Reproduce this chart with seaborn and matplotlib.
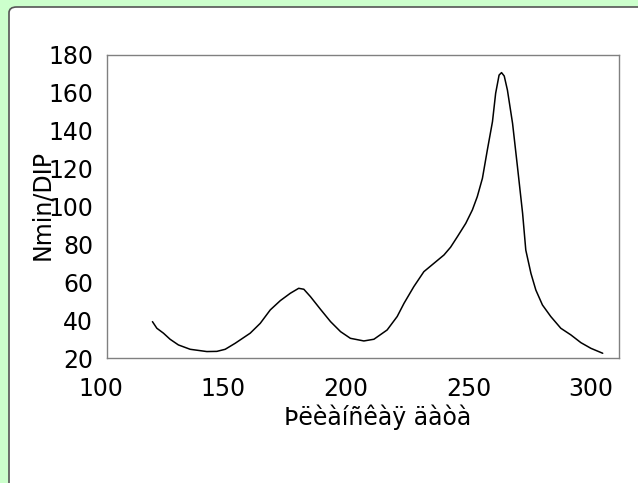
import matplotlib
matplotlib.use("Agg")
import matplotlib.pyplot as plt
from matplotlib.patches import FancyBboxPatch
import matplotlib.transforms as mtransforms
import seaborn as sns
import pandas as pd

# Data
day = [121.0, 122.8, 125.5, 128.2, 131.6, 136.4, 143.2, 147.3, 150.7, 154.8,
       160.9, 165.0, 169.1, 173.2, 177.3, 180.7, 182.8, 185.5, 189.6, 193.7,
       197.8, 201.8, 207.3, 211.4, 216.8, 220.9, 223.7, 227.7, 231.8, 235.9,
       240.0, 242.7, 245.5, 248.9, 251.6, 253.6, 255.7, 257.7, 259.8, 261.1,
       262.5, 263.5, 264.6, 265.9, 268.0, 270.0, 272.1, 273.4, 275.5, 277.5,
       280.2, 283.6, 287.7, 291.8, 295.9, 300.0, 304.8]
value = [39.2, 35.7, 33.1, 29.9, 26.9, 24.6, 23.4, 23.5, 24.6, 27.8,
         33.1, 38.3, 45.4, 50.3, 54.2, 56.8, 56.3, 52.4, 45.7, 39.2,
         33.9, 30.4, 29.0, 29.9, 34.8, 41.9, 48.9, 57.7, 65.6, 70.0,
         74.4, 78.5, 84.1, 91.1, 98.2, 105.2, 114.9, 129.8, 144.8, 159.8,
         169.4, 170.7, 168.9, 161.5, 143.9, 121.0, 96.4, 77.0, 64.7, 55.9,
         48.0, 41.9, 35.7, 32.2, 28.1, 25.1, 22.5]
xticks = [100, 150, 200, 250, 300]
yticks = [20, 40, 60, 80, 100, 120, 140, 160, 180]
xlabel = "Þëèàíñêàÿ äàòà"
ylabel = "Nmin/DIP"

df = pd.DataFrame({"day": day, "value": value})

sns.set_theme(style="white")
plt.rcParams["font.family"] = ["DejaVu Sans"]

W, H = 638, 483
fig = plt.figure(figsize=(W / 100, H / 100), dpi=100)
fig.patch.set_facecolor("#ccffcc")

# White rounded panel
panel = FancyBboxPatch((9 / W, (H - 600) / H), 700 / W, (600 - 7) / H,
                       boxstyle="round,pad=0,rounding_size=0.012",
                       transform=fig.transFigure, facecolor="white",
                       edgecolor="#555555", linewidth=1.2, zorder=-10)
fig.patches.append(panel)

ax = fig.add_axes([107 / W, (H - 358) / H, 512 / W, 303 / H])
ax.set_zorder(5)
ax.set_facecolor("white")
sns.lineplot(data=df, x="day", y="value", ax=ax, color="black",
             linewidth=1.1, sort=False)

ax.set_xlim(102.45, 311.45)
ax.set_ylim(20, 180)

fs = 17
ax.set_yticks(yticks)
ax.set_yticklabels([str(t) for t in yticks], fontsize=fs, color="black")
vis_x = [t for t in xticks if 102.45 <= t <= 311.45]
ax.set_xticks(vis_x)
ax.set_xticklabels([str(t) for t in vis_x], fontsize=fs, color="black")
ax.tick_params(axis="both", length=0)
ax.tick_params(axis="x", pad=14)
ax.tick_params(axis="y", pad=10)

# x tick labels that fall just outside the plotted range
trans = mtransforms.blended_transform_factory(ax.transData, ax.transAxes)
for t in xticks:
    if t not in vis_x:
        ax.text(t, -(14 * 100 / 72) / 303, str(t), transform=trans,
                ha="center", va="top", fontsize=fs, color="black",
                clip_on=False)

for s in ax.spines.values():
    s.set_visible(True)
    s.set_color("#808080")
    s.set_linewidth(1.0)

ax.set_xlabel(xlabel, fontsize=fs, color="black")
ax.set_ylabel(ylabel, fontsize=fs, color="black")
ax.xaxis.set_label_coords((378 - 107) / 512, -(417 - 358) / 303)
ax.xaxis.label.set_va("center")
ax.yaxis.set_label_coords((42 - 107) / 512, (358 - 205) / 303)
ax.yaxis.label.set_va("center")
ax.grid(False)

fig.savefig("out.png", dpi=100, facecolor=fig.get_facecolor())
